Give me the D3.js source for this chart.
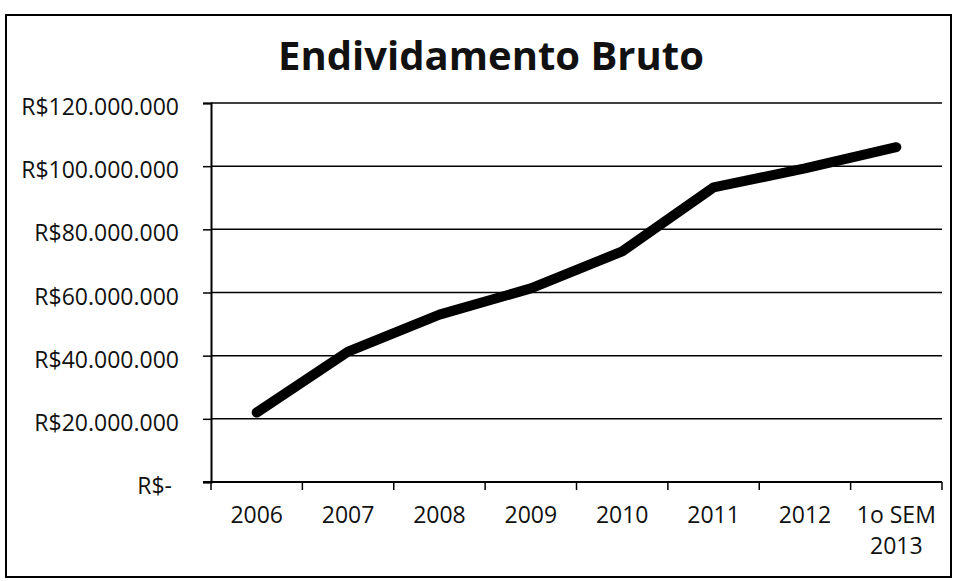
<!DOCTYPE html>
<html>
  <head>
    <style>
      html, body {
        padding: 0;
        margin: 0;
        overflow: hidden;
        background: #ffffff;
      }
      text {
        font-family: "Open Sans", sans-serif;
        fill: #111;
      }
    </style>
  </head>
  <body>
    <div id="chart"></div>
    <script src="https://cdnjs.cloudflare.com/ajax/libs/d3/7.8.5/d3.min.js"></script>
    <script>
      // values
      const categories = ['2006', '2007', '2008', '2009', '2010', '2011', '2012', '1o SEM 2013']
      const debt = [22000000, 41300000, 53000000, 61300000, 73000000, 93300000, 99300000, 106000000]
      const yTicks = [0, 20000000, 40000000, 60000000, 80000000, 100000000, 120000000]

      const width = 955
      const height = 581
      const margin = { top: 103, right: 13, bottom: 99, left: 211 }

      const svg = d3.select('#chart')
        .append('svg')
        .attr('width', width)
        .attr('height', height)

      // outer frame
      svg.append('rect')
        .attr('x', 6)
        .attr('y', 15)
        .attr('width', 945)
        .attr('height', 562)
        .attr('fill', 'none')
        .attr('stroke', '#000')
        .attr('stroke-width', 2)

      svg.append('text')
        .attr('x', 491)
        .attr('y', 70)
        .attr('text-anchor', 'middle')
        .attr('font-size', 40)
        .attr('font-weight', 'bold')
        .text('Endividamento Bruto')

      let x = d3.scaleBand()
        .domain(categories)
        .range([margin.left, width - margin.right])

      let y = d3.scaleLinear()
        .domain([0, 120000000])
        .range([height - margin.bottom, margin.top])

      let fmt = v => v === 0 ? 'R$-' : 'R$' + d3.format(',')(v).replace(/,/g, '.')

      // gridlines
      svg.append('g')
        .selectAll('line')
        .data(yTicks.filter(d => d > 0))
        .join('line')
        .attr('x1', margin.left)
        .attr('x2', width - margin.right)
        .attr('y1', d => y(d))
        .attr('y2', d => y(d))
        .attr('stroke', '#000')
        .attr('stroke-width', 1.5)

      let yAxis = svg.append('g')
        .attr('transform', `translate(${margin.left},0)`)
        .call(d3.axisLeft(y).tickValues(yTicks).tickFormat(fmt).tickSize(8).tickPadding(24))
      yAxis.select('.domain').attr('stroke-width', 2)
      yAxis.selectAll('.tick line').attr('stroke-width', 1.5)
      yAxis.selectAll('.tick text')
        .attr('font-size', 23)
        .attr('font-family', '"Open Sans", sans-serif')
        .attr('fill', '#111')
        .attr('dy', '0.5em')
        .attr('dx', d => d === 0 ? -7 : 0)

      // x axis: ticks on band edges, labels centred in bands
      let xAxis = svg.append('g')
      let base = y(0)
      xAxis.append('line')
        .attr('x1', margin.left - 8)
        .attr('x2', width - margin.right)
        .attr('y1', base)
        .attr('y2', base)
        .attr('stroke', '#000')
        .attr('stroke-width', 2)
      let edges = categories.map(c => x(c)).concat([x.range()[1]])
      xAxis.selectAll('line.tick')
        .data(edges)
        .join('line')
        .attr('class', 'tick')
        .attr('x1', d => d)
        .attr('x2', d => d)
        .attr('y1', base)
        .attr('y2', base + 8)
        .attr('stroke', '#000')
        .attr('stroke-width', 1.5)

      xAxis.selectAll('text')
        .data(categories)
        .join('text')
        .attr('x', d => x(d) + x.bandwidth() / 2)
        .attr('y', base + 41)
        .attr('text-anchor', 'middle')
        .attr('font-size', 23)
        .each(function(d) {
          let t = d3.select(this)
          let parts = d === '1o SEM 2013' ? ['1o SEM', '2013'] : [d]
          parts.forEach((p, i) => {
            t.append('tspan')
              .attr('x', x(d) + x.bandwidth() / 2)
              .attr('dy', i === 0 ? 0 : 31)
              .text(p)
          })
        })

      let line = d3.line()
        .x((d, i) => x(categories[i]) + x.bandwidth() / 2)
        .y(d => y(d))

      svg.append('path')
        .datum(debt)
        .attr('d', line)
        .attr('fill', 'none')
        .attr('stroke', '#000')
        .attr('stroke-width', 10)
        .attr('stroke-linejoin', 'round')
        .attr('stroke-linecap', 'round')
    </script>
  </body>
</html>
